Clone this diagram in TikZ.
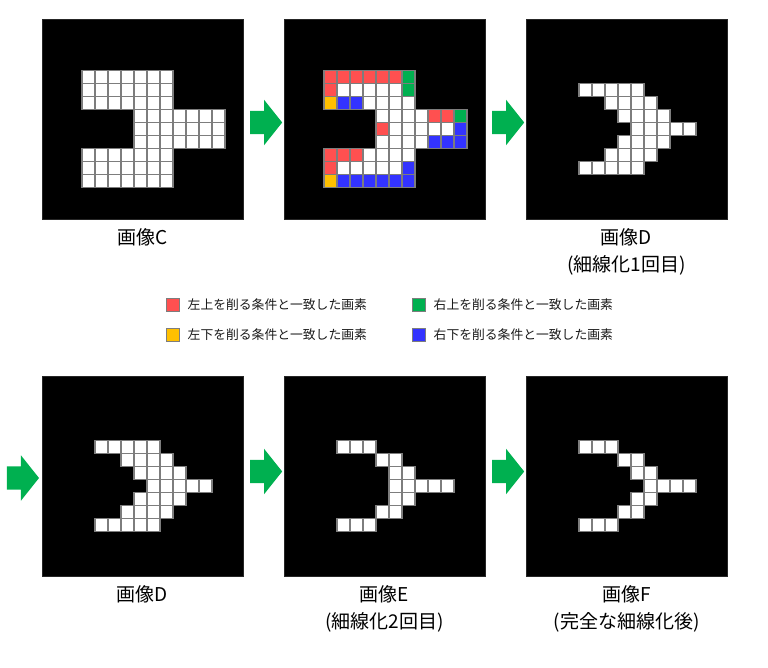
\documentclass[tikz,border=0pt]{standalone}
\usepackage{fontspec}
\setmainfont{Noto Sans CJK JP}
\usetikzlibrary{positioning,shapes.arrows,calc}

\definecolor{tl}{RGB}{255,80,80}
\definecolor{tr}{RGB}{0,176,80}
\definecolor{bl}{RGB}{255,192,0}
\definecolor{br}{RGB}{51,51,255}
\definecolor{gridgray}{RGB}{125,125,125}

% #1 = panel node, #2 = row/from/to/colour list
\newcommand{\pixels}[2]{%
  \begin{scope}[shift={(#1.north west)}, xshift=40pt, yshift=-51pt]
    \foreach \r/\a/\b/\col in {#2}
      \foreach \c in {\a,...,\b}
        \draw[px, fill=\col] (13*\c,13*\r) rectangle ++(13,13);
  \end{scope}}

\begin{document}
\begin{tikzpicture}[x=1pt, y=-1pt,
    pan/.style={fill=black, draw=black!85, inner sep=0, outer sep=0, minimum width=201pt, minimum height=200pt},
    px/.style={draw=gridgray, line width=1.2pt},
    arr/.style={single arrow, fill=tr, inner sep=0, outer sep=0, text height=23pt, text depth=0pt, text width=0pt, minimum height=32pt, single arrow head extend=11pt, single arrow tip angle=103},
    lab/.style={align=center, inner sep=0, font=\fontsize{19}{27}\selectfont},
    sw/.style={draw=gridgray, line width=1pt, minimum size=13pt, inner sep=0},
    txt/.style={inner sep=0, text=black!90, font=\fontsize{12.8}{14}\selectfont}]
  \useasboundingbox (0,0) rectangle (768,667);

  % top row
  \node[pan] (C) at (142.5,119.5) {};
  \node[pan, right=41pt of C] (M) {};
  \node[pan, right=41pt of M] (D) {};
  % bottom row
  \node[pan, below=157pt of C] (D2) {};
  \node[pan, right=41pt of D2] (E) {};
  \node[pan, right=41pt of E] (F) {};

  \pixels{C}{0/0/6/white,1/0/6/white,2/0/6/white,3/4/10/white,4/4/10/white,5/4/10/white,6/0/6/white,7/0/6/white,8/0/6/white}
  \pixels{M}{0/0/5/tl,0/6/6/tr,1/0/0/tl,1/1/5/white,1/6/6/tr,2/0/0/bl,2/1/2/br,2/3/6/white,
    3/4/7/white,3/8/9/tl,3/10/10/tr,4/4/4/tl,4/5/9/white,4/10/10/br,5/4/7/white,5/8/10/br,
    6/0/2/tl,6/3/6/white,7/0/0/tl,7/1/5/white,7/6/6/br,8/0/0/bl,8/1/6/br}
  \pixels{D}{1/1/5/white,2/3/6/white,3/4/7/white,4/5/9/white,5/4/7/white,6/3/6/white,7/1/5/white}
  \pixels{D2}{1/1/5/white,2/3/6/white,3/4/7/white,4/5/9/white,5/4/7/white,6/3/6/white,7/1/5/white}
  \pixels{E}{1/1/3/white,2/4/5/white,3/5/6/white,4/5/9/white,5/5/6/white,6/4/5/white,7/1/3/white}
  \pixels{F}{1/1/3/white,2/4/5/white,3/5/6/white,4/6/9/white,5/5/6/white,6/4/5/white,7/1/3/white}

  % arrows
  \node[arr, yshift=-3pt, xshift=-2pt] (a1) at ($(C.east)!.5!(M.west)$) {};
  \node[arr, yshift=-3pt, xshift=-2pt] (a2) at ($(M.east)!.5!(D.west)$) {};
  \node[arr, left=3pt of D2, yshift=-1.5pt] (a3) {};
  \node[arr, yshift=5pt, xshift=-2pt] (a4) at ($(D2.east)!.5!(E.west)$) {};
  \node[arr, yshift=5pt, xshift=-2pt] (a5) at ($(E.east)!.5!(F.west)$) {};

  % labels
  \node[lab, below=9pt of C] (C_label) {画像C};
  \node[lab, below=9pt of D] (D_label) {画像D\\(細線化1回目)};
  \node[lab, below=9pt of D2] (D2_label) {画像D};
  \node[lab, below=9pt of E] (E_label) {画像E\\(細線化2回目)};
  \node[lab, below=9pt of F] (F_label) {画像F\\(完全な細線化後)};

  % legend
  \node[sw, fill=tl] (k1) at (172.5,304.5) {};
  \node[sw, fill=tr, right=232pt of k1] (k2) {};
  \node[sw, fill=bl, below=16pt of k1] (k3) {};
  \node[sw, fill=br, below=16pt of k2] (k4) {};
  \node[txt, right=8pt of k1] (k1_text) {左上を削る条件と一致した画素};
  \node[txt, right=8pt of k2] (k2_text) {右上を削る条件と一致した画素};
  \node[txt, right=8pt of k3] (k3_text) {左下を削る条件と一致した画素};
  \node[txt, right=8pt of k4] (k4_text) {右下を削る条件と一致した画素};
\end{tikzpicture}
\end{document}
